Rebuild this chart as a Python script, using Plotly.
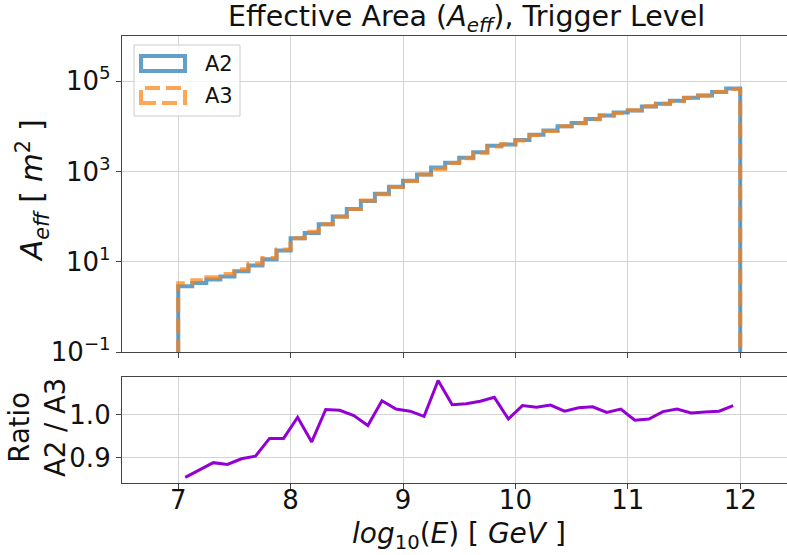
import plotly.graph_objects as go

# ---------------- data ----------------
bin_edges = [7.0 + 0.125 * i for i in range(41)]
a2_values = [2.86, 3.39, 4.02, 4.71, 6.12, 8.28, 11.4, 17.7, 33.0, 43.2,
             68.0, 100.5, 147.7, 221, 321, 460, 619, 850, 1220, 1566,
             2020, 2670, 3703, 3963, 4950, 6510, 8035, 10040, 11845, 14590,
             17420, 20090, 22230, 27420, 31740, 36560, 42760, 47970, 57810, 68330]
a3_values = [3.34, 3.89, 4.52, 5.33, 6.81, 9.16, 12.1, 18.7, 33.2, 46.1,
             67.2, 99.5, 148.0, 227, 311, 454, 614, 853, 1131, 1531,
             1971, 2590, 3560, 4000, 4848, 6400, 7852, 9960, 11655, 14320,
             17340, 19815, 22540, 27670, 31520, 36060, 42560, 47750, 57280, 66930]
ratio_values = [0.855, 0.872, 0.889, 0.885, 0.898, 0.904, 0.945, 0.945, 0.994, 0.937,
                1.012, 1.010, 0.998, 0.975, 1.032, 1.013, 1.008, 0.996, 1.079, 1.023,
                1.025, 1.031, 1.040, 0.990, 1.021, 1.017, 1.022, 1.008, 1.016, 1.018,
                1.005, 1.013, 0.987, 0.990, 1.007, 1.013, 1.004, 1.006, 1.008, 1.021]
bin_centers = [(bin_edges[i] + bin_edges[i + 1]) / 2 for i in range(40)]
y_ticks = [0.1, 10, 1000, 100000]
y_ticktext = ["10<sup>−1</sup>", "10<sup>1</sup>", "10<sup>3</sup>", "10<sup>5</sup>"]

W, H = 787, 555
FONT = "DejaVu Sans"
BLUE = "rgba(31,119,180,0.7)"
ORANGE = "rgba(255,127,14,0.7)"
FRAME = "#444444"
GRID = "#d3d3d3"


def step(values, floor=0.03):
    xs = [bin_edges[0]] + list(bin_edges) + [bin_edges[-1]]
    ys = [floor] + list(values) + [values[-1], floor]
    return xs, ys


def px(x):
    return x / W


def py(y):
    return 1 - y / H


fig = go.Figure()
xs, ys = step(a2_values)
fig.add_trace(go.Scatter(x=xs, y=ys, mode="lines", line=dict(shape="hv", color=BLUE, width=4),
                         name="A2", showlegend=False, xaxis="x", yaxis="y"))
xs, ys = step(a3_values)
fig.add_trace(go.Scatter(x=xs, y=ys, mode="lines",
                         line=dict(shape="hv", color=ORANGE, width=4, dash="15px,6px"),
                         name="A3", showlegend=False, xaxis="x", yaxis="y"))
fig.add_trace(go.Scatter(x=bin_centers, y=ratio_values, mode="lines",
                         line=dict(color="#9400D3", width=3),
                         showlegend=False, xaxis="x2", yaxis="y2"))

xrange = [6.5, 6.5 + (W - 122) / 112.4]
common_axis = dict(showline=True, linecolor=FRAME, linewidth=1.2, gridcolor=GRID, gridwidth=1,
                   ticks="outside", ticklen=5, tickcolor=FRAME, zeroline=False, automargin=False,
                   tickfont=dict(family=FONT, size=26, color="#111"))

fig.update_layout(
    width=W, height=H, margin=dict(l=0, r=0, t=0, b=0, pad=0, autoexpand=False),
    paper_bgcolor="white", plot_bgcolor="white",
    font=dict(family=FONT, color="#111"),
    xaxis=dict(common_axis, domain=[px(122), 1], range=xrange, anchor="y",
               tickvals=[7, 8, 9, 10, 11, 12], showticklabels=False, mirror=True),
    yaxis=dict(common_axis, domain=[py(352), py(36)], type="log", range=[-1, 6],
               anchor="x", tickvals=y_ticks, ticktext=y_ticktext, mirror=False),
    xaxis2=dict(common_axis, domain=[px(122), 1], range=xrange, anchor="y2",
                tickvals=[7, 8, 9, 10, 11, 12], ticktext=["7", "8", "9", "10", "11", "12"],
                mirror=True, ticklabelstandoff=-11),
    yaxis2=dict(common_axis, domain=[py(483), py(377)], range=[0.842, 1.087], anchor="x2",
                tickvals=[0.9, 1.0], ticktext=["0.9", "1.0"], mirror=False),
)

annotations = [
    dict(text="Effective Area (<i>A</i><sub><i>eff</i></sub>), Trigger Level", x=px(467), y=py(18),
         xref="paper", yref="paper", showarrow=False, font=dict(family=FONT, size=28.5, color="#111"),
         xanchor="center", yanchor="middle"),
    dict(text="<i>A</i><sub><i>eff</i></sub> [ <i>m</i><sup>2</sup> ]", x=px(32), y=py(191),
         xref="paper", yref="paper", showarrow=False, textangle=-90,
         font=dict(family=FONT, size=29.5, color="#111"), xanchor="center", yanchor="middle"),
    dict(text="Ratio<br>A2 / A3", x=px(37), y=py(428),
         xref="paper", yref="paper", showarrow=False, textangle=-90,
         font=dict(family=FONT, size=27.5, color="#111"), xanchor="center", yanchor="middle"),
    dict(text="<i>log</i><sub>10</sub>(<i>E</i>) [ <i>GeV</i> ]", x=px(459), y=py(535),
         xref="paper", yref="paper", showarrow=False,
         font=dict(family=FONT, size=28, color="#111"), xanchor="center", yanchor="middle"),
    dict(text="A2", x=px(203), y=py(64), xref="paper", yref="paper", showarrow=False,
         font=dict(family=FONT, size=21, color="#111"), xanchor="left", yanchor="middle"),
    dict(text="A3", x=px(203), y=py(96), xref="paper", yref="paper", showarrow=False,
         font=dict(family=FONT, size=21, color="#111"), xanchor="left", yanchor="middle"),
]
fig.update_layout(annotations=annotations)

shapes = [
    dict(type="rect", xref="paper", yref="paper", x0=px(134), x1=px(240), y0=py(116), y1=py(45),
         line=dict(color="#cccccc", width=1), fillcolor="rgba(255,255,255,0.8)", layer="above"),
    dict(type="rect", xref="paper", yref="paper", x0=px(141), x1=px(185), y0=py(71), y1=py(56),
         line=dict(color=BLUE, width=4), fillcolor="rgba(0,0,0,0)", layer="above"),
    dict(type="rect", xref="paper", yref="paper", x0=px(141), x1=px(185), y0=py(103), y1=py(88),
         line=dict(color=ORANGE, width=4, dash="15px,6px"), fillcolor="rgba(0,0,0,0)", layer="above"),
]
fig.update_layout(shapes=shapes)

fig.write_html("out.html", config={"displayModeBar": False},
               post_script="document.body.style.margin='0';document.body.style.padding='0';")
